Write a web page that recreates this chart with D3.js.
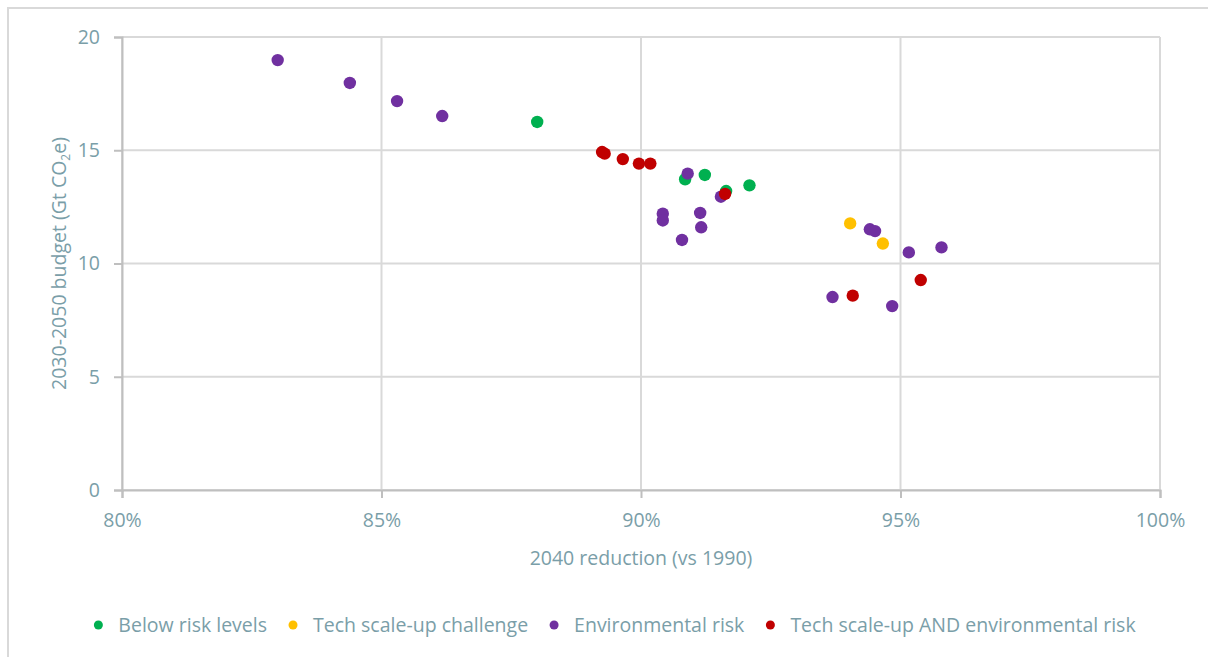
<!DOCTYPE html>
<html>
<head>
<meta charset="utf-8">
<script src="https://cdn.jsdelivr.net/npm/d3@7"></script>
<style>
  body { margin: 0; background: #fff; }
  svg text { font-family: "Segoe UI", "Open Sans", "Noto Sans", sans-serif; fill: #7a9ea8; }
</style>
</head>
<body>
<div class="chart"></div>
<script>
// series names + colours
var seriesNames = ["Below risk levels", "Tech scale-up challenge", "Environmental risk", "Tech scale-up AND environmental risk"];
var seriesColors = ["#00b050", "#ffc000", "#7030a0", "#c00000"];

// 2040 reduction (%) and 2030-2050 budget (Gt CO2e) per series
var belowX = [88.0, 90.85, 91.23, 91.64, 92.09];
var belowY = [16.25, 13.72, 13.91, 13.2, 13.45];

var techX = [94.03, 94.66];
var techY = [11.77, 10.88];

var envX = [83.0, 84.39, 85.3, 86.17, 90.9, 91.54, 90.42, 90.42, 91.14, 91.16, 90.79, 94.41, 94.51, 95.16, 95.79, 93.69, 94.84];
var envY = [18.98, 17.97, 17.17, 16.51, 13.97, 12.95, 12.2, 11.9, 12.23, 11.6, 11.04, 11.51, 11.43, 10.49, 10.71, 8.52, 8.12];

var bothX = [89.25, 89.3, 89.65, 89.96, 90.18, 91.62, 95.39, 94.08];
var bothY = [14.92, 14.85, 14.61, 14.41, 14.41, 13.07, 9.27, 8.58];

var xTicks = [80, 85, 90, 95, 100];
var yTicks = [0, 5, 10, 15, 20];

var seriesX = [belowX, techX, envX, bothX];
var seriesY = [belowY, techY, envY, bothY];

var W = 1208, H = 657;
var margin = { top: 37, right: 48, bottom: 167, left: 122 };
var width = W - margin.left - margin.right;
var height = H - margin.top - margin.bottom;
var fontSize = '19.5px';

var x = d3.scaleLinear().domain([80, 100]).range([0, width]);
var y = d3.scaleLinear().domain([0, 20]).range([height, 0]);

var svg = d3.select('.chart')
    .append('svg')
    .attr('width', W)
    .attr('height', H);

// outer frame
svg.append('rect')
    .attr('x', 8).attr('y', 8)
    .attr('width', W + 20).attr('height', H + 20)
    .attr('fill', 'none')
    .attr('stroke', '#d9d9d9')
    .attr('stroke-width', 2);

var canvas = svg.append('g')
    .attr('transform', `translate(${margin.left},${margin.top})`);

// gridlines
canvas.selectAll('.hgrid')
    .data(yTicks)
    .enter()
    .append('line')
    .attr('x1', 0).attr('x2', width)
    .attr('y1', d => y(d)).attr('y2', d => y(d))
    .attr('stroke', '#d9d9d9')
    .attr('stroke-width', 2);

canvas.selectAll('.vgrid')
    .data(xTicks)
    .enter()
    .append('line')
    .attr('y1', 0).attr('y2', height)
    .attr('x1', d => x(d)).attr('x2', d => x(d))
    .attr('stroke', '#d9d9d9')
    .attr('stroke-width', 2);

// axes
var xAxis = d3.axisBottom(x).tickValues(xTicks).tickSize(8).tickPadding(15).tickFormat(d => d + '%');
var yAxis = d3.axisLeft(y).tickValues(yTicks).tickSize(8).tickPadding(14);

var gx = canvas.append('g')
    .attr('transform', `translate(0, ${height})`)
    .call(xAxis);
var gy = canvas.append('g').call(yAxis);

[gx, gy].forEach(g => {
    g.select('.domain').attr('stroke', '#bfbfbf').attr('stroke-width', 2);
    g.selectAll('.tick line').attr('stroke', '#bfbfbf').attr('stroke-width', 2);
    g.selectAll('.tick text')
        .style('font-size', fontSize)
        .style('font-family', '"Segoe UI", "Open Sans", "Noto Sans", sans-serif')
        .attr('fill', '#7a9ea8');
});
gy.selectAll('.tick text').attr('dy', '0.32em');

// points
seriesNames.forEach((name, s) => {
    canvas.append('g')
        .selectAll('circle')
        .data(seriesX[s].map((v, i) => [v, seriesY[s][i]]))
        .enter()
        .append('circle')
        .attr('cx', d => x(d[0]))
        .attr('cy', d => y(d[1]))
        .attr('r', 6.2)
        .attr('fill', seriesColors[s]);
});

// axis titles
svg.append('text')
    .attr('x', margin.left + width / 2)
    .attr('y', 565)
    .attr('text-anchor', 'middle')
    .style('font-size', fontSize)
    .text('2040 reduction (vs 1990)');

var yt = svg.append('text')
    .attr('transform', `translate(66, ${margin.top + height / 2}) rotate(-90)`)
    .attr('text-anchor', 'middle')
    .style('font-size', fontSize);
yt.append('tspan').text('2030-2050 budget (Gt CO');
yt.append('tspan').attr('dy', 4).style('font-size', '12px').text('2');
yt.append('tspan').attr('dy', -4).text('e)');

// legend
var legend = svg.append('g');
var items = legend.selectAll('g')
    .data(seriesNames)
    .enter()
    .append('g');
items.append('circle')
    .attr('r', 4.5)
    .attr('cy', 0)
    .attr('fill', (d, i) => seriesColors[i]);
items.append('text')
    .attr('x', 20)
    .attr('dy', '0.35em')
    .style('font-size', fontSize)
    .text(d => d);

var offset = 0;
var gap = 26;
items.each(function () {
    var w = d3.select(this).select('text').node().getComputedTextLength() + 20;
    d3.select(this).attr('transform', `translate(${offset},0)`);
    offset += w + gap;
});
var total = offset - gap;
legend.attr('transform', `translate(${613 - total / 2 + 4}, 625)`);
</script>
</body>
</html>
